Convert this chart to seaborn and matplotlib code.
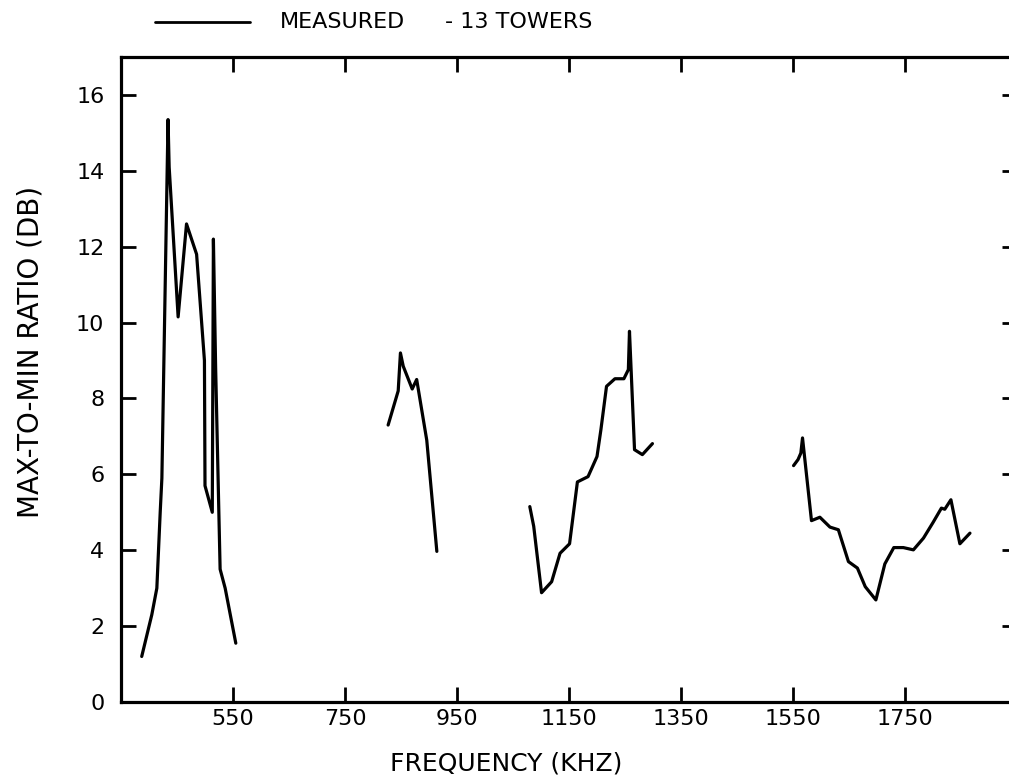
import matplotlib
matplotlib.use("Agg")
import matplotlib.pyplot as plt
from matplotlib.lines import Line2D
import numpy as np
import pandas as pd
import seaborn as sns

# ── Data (frequency in kHz, max-to-min ratio in dB) ───────────────────────────
band1_freq = [387, 405, 414, 420, 423, 434, 436, 452, 467, 485, 499, 500, 513,
              515, 519, 527, 536, 555]
band1_ratio = [1.2, 2.3, 3.0, 5.0, 5.9, 15.35, 14.1, 10.15, 12.6, 11.8, 9.0,
               5.7, 5.0, 12.2, 8.8, 3.5, 3.0, 1.55]

band2_freq = [827, 845, 849, 854, 870, 878, 896, 914]
band2_ratio = [7.3, 8.2, 9.2, 8.85, 8.25, 8.5, 6.9, 3.97]

band3_freq = [1080, 1087, 1101, 1119, 1134, 1151, 1165, 1184, 1200, 1207, 1217,
              1232, 1248, 1256, 1258, 1267, 1281, 1299]
band3_ratio = [5.15, 4.63, 2.88, 3.17, 3.92, 4.17, 5.8, 5.94, 6.47, 7.18, 8.32,
               8.52, 8.52, 8.76, 9.77, 6.65, 6.52, 6.81]

band4_freq = [1551, 1559, 1564, 1567, 1583, 1598, 1616, 1631, 1649, 1665, 1679,
              1698, 1714, 1730, 1747, 1765, 1783, 1800, 1815, 1821, 1832, 1848,
              1866]
band4_ratio = [6.23, 6.39, 6.56, 6.96, 4.78, 4.87, 4.61, 4.54, 3.70, 3.53, 3.04,
               2.69, 3.64, 4.07, 4.07, 4.01, 4.32, 4.73, 5.11, 5.08, 5.33, 4.17,
               4.45]

x_ticks = [550, 750, 950, 1150, 1350, 1550, 1750]
y_ticks = [0, 2, 4, 6, 8, 10, 12, 14, 16]

bands = [(band1_freq, band1_ratio), (band2_freq, band2_ratio),
         (band3_freq, band3_ratio), (band4_freq, band4_ratio)]
df = pd.concat(
    [pd.DataFrame({"freq": f, "ratio": r, "band": i}) for i, (f, r) in enumerate(bands)],
    ignore_index=True,
)

# ── Style ──────────────────────────────────────────────────────────────────────
sns.set_theme(style="ticks")
plt.rcParams["font.family"] = ["DejaVu Sans"]
plt.rcParams["text.color"] = "black"
plt.rcParams["axes.labelcolor"] = "black"

W, H = 1009, 783
fig = plt.figure(figsize=(W / 100, H / 100), dpi=100)
ax = fig.add_axes([121 / W, 81 / H, 896 / W, 645 / H])

sns.lineplot(data=df, x="freq", y="ratio", units="band", estimator=None,
             sort=False, color="black", linewidth=2.3, ax=ax)

ax.set_xlim(350, 1950)
ax.set_ylim(0, 17)
ax.set_xticks(x_ticks)
ax.set_yticks(y_ticks)
ax.tick_params(axis="both", direction="in", length=11, width=2.0,
               top=True, right=True, labelsize=16, colors="black")
ax.tick_params(axis="x", pad=5)
ax.tick_params(axis="y", pad=12)
for side in ax.spines.values():
    side.set_linewidth(2.3)
    side.set_color("black")

ax.set_xlabel("FREQUENCY (KHZ)", fontsize=18)
ax.set_ylabel("MAX-TO-MIN RATIO (DB)", fontsize=20)
ax.xaxis.set_label_coords(0.43, -0.077)
ax.yaxis.set_label_coords(-0.085, 0.543)

# legend drawn as a header line above the frame
ly = 1 - 22 / H
fig.add_artist(Line2D([155 / W, 250 / W], [ly, ly], color="black", linewidth=2.0))
fig.text(280 / W, ly, "MEASURED", fontsize=16, va="center", ha="left")
fig.text(445 / W, ly, "- 13 TOWERS", fontsize=16, va="center", ha="left")

fig.savefig("out.png", dpi=100)
plt.close(fig)
